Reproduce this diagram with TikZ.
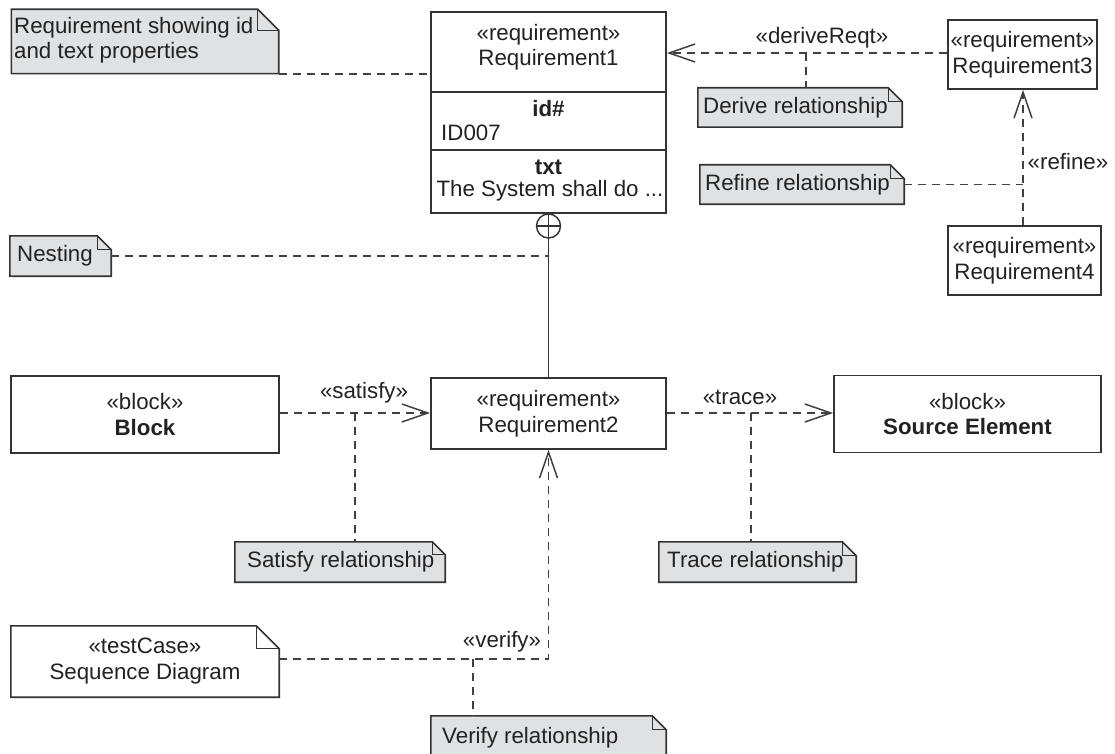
\documentclass[tikz,border=0pt]{standalone}
\usepackage{fontspec}
\setmainfont{Liberation Sans}
\usetikzlibrary{arrows.meta,calc}

\definecolor{ink}{HTML}{222222}
\definecolor{edge}{HTML}{333333}
\definecolor{dashink}{HTML}{404040}
\definecolor{notefill}{HTML}{E0E1E3}

% outline of a note with a folded top-right corner, drawn round an empty node
\newcommand\foldnote[3]{%
  \filldraw[fill=#3, draw=edge, line width=1.6pt, line join=miter]
    (#1.south west) -- (#1.north west) -- ([xshift=-#2]#1.north east)
    -- ([yshift=-#2]#1.north east) -- (#1.south east) -- cycle;
  \draw[edge, line width=1.3pt]
    ([xshift=-#2]#1.north east) |- ([yshift=-#2]#1.north east);}

\begin{document}
\begin{tikzpicture}[x=1pt, y=-1pt,
  every node/.style={font=\fontsize{22.3}{25.5}\selectfont, text=ink, inner sep=0pt},
  box/.style={draw=edge, line width=1.7pt, fill=white, align=center},
  shapeonly/.style={rectangle, inner sep=0pt},
  link/.style={draw=dashink, line width=1.8pt, dash pattern=on 8pt off 6pt},
  openhead/.style={-{Straight Barb[length=26pt, width=18pt, line width=1.5pt]}},
  solidline/.style={draw=edge, line width=1.6pt}
]
\useasboundingbox (0,0) rectangle (1115,754);

% ---------- Requirement1 with its id and text compartments ----------
\node[box, minimum width=235pt, minimum height=201pt] (req1) at (548.5,112.5) {};
\draw[solidline] (431,92) -- (666,92);
\draw[solidline] (431,150) -- (666,150);
\node[align=center] (req1head) at (548.5,47) {«requirement»\\Requirement1};
\node (idlbl) at (548.5,109) {\bfseries id\#};
\node[anchor=west] (idval) at (441,133) {ID007};
\node (txtlbl) at (548.5,167) {\bfseries txt};
\node (txtval) at (550,191) {The System shall do ...};

% nesting symbol under Requirement1
\node[draw=edge, circle, line width=1.4pt, minimum size=24pt] (nest) at (548.5,226) {};
\draw[edge, line width=1.3pt] (nest.north) -- (nest.south) (nest.west) -- (nest.east);

% ---------- Requirement3 and Requirement4 ----------
\node[box, minimum width=149pt, minimum height=69pt] (req3) at (1022.5,54.5)
  {«requirement»\\Requirement3};
\node[box, minimum width=153pt, minimum height=69pt] (req4) at (1024.5,260.5)
  {«requirement»\\Requirement4};

% ---------- lower row ----------
\node[box, minimum width=268pt, minimum height=77pt] (block) at (145,414.5)
  {«block»\\\textbf{Block}};
\node[box, minimum width=235pt, minimum height=71pt] (req2) at (548.5,413.5)
  {«requirement»\\Requirement2};
\node[box, minimum width=267pt, minimum height=77pt] (src) at (967.5,414)
  {«block»\\\textbf{Source Element}};

% ---------- notes ----------
\node[shapeonly, minimum width=267pt, minimum height=64pt] (n1) at (145,41.5) {};
\foldnote{n1}{21pt}{notefill}
\node[anchor=west, align=left] (n1txt) at (14,40)
  {Requirement showing id\\and text properties};

\node[shapeonly, minimum width=101pt, minimum height=40pt] (nnest) at (60.5,256) {};
\foldnote{nnest}{14pt}{notefill}
\node[anchor=west] (nnesttxt) at (17,256) {Nesting};

\node[shapeonly, minimum width=204pt, minimum height=39pt] (nderive) at (800,107.5) {};
\foldnote{nderive}{14pt}{notefill}
\node[anchor=west] (nderivetxt) at (703,107.5) {Derive relationship};

\node[shapeonly, minimum width=204pt, minimum height=39pt] (nrefine) at (802,184.5) {};
\foldnote{nrefine}{14pt}{notefill}
\node[anchor=west] (nrefinetxt) at (705,184.5) {Refine relationship};

\node[shapeonly, minimum width=210pt, minimum height=40pt] (nsatisfy) at (340,562) {};
\foldnote{nsatisfy}{13pt}{notefill}
\node[anchor=west] (nsatisfytxt) at (247,561.5) {Satisfy relationship};

\node[shapeonly, minimum width=197pt, minimum height=40pt] (ntrace) at (757.5,562) {};
\foldnote{ntrace}{14pt}{notefill}
\node[anchor=west] (ntracetxt) at (667,561.5) {Trace relationship};

\node[shapeonly, minimum width=235pt, minimum height=60pt] (nverify) at (548.5,746) {};
\foldnote{nverify}{14pt}{notefill}
\node[anchor=west] (nverifytxt) at (442,737.5) {Verify relationship};

% test case drawn as a white folded box
\node[shapeonly, minimum width=268pt, minimum height=71pt] (tc) at (145,661.5) {};
\foldnote{tc}{23pt}{white}
\node[align=center] (tctxt) at (145,661) {«testCase»\\Sequence Diagram};

% ---------- relationships ----------
% requirement note to Requirement1
\draw[link] (n1.south east) -- (n1.south east -| req1.west);

% containment
\draw[solidline] (nest.south) -- (req2.north);
\draw[link] (nnest.east) -- (nnest.east -| nest.south);

% deriveReqt
\draw[link, openhead] (req3.west |- 0,53) coordinate (dstart) -- (dstart -| req1.east);
\node (derivelbl) at (822,38) {«deriveReqt»};
\coordinate (dj) at (806,53);
\draw[link] (dj) -- (dj |- nderive.north);

% refine
\draw[link, openhead] (req4.north -| 1023,0) coordinate (rstart) -- (rstart |- req3.south);
\node (refinelbl) at (1068,162) {«refine»};
\draw[link] (nrefine.east) -- (nrefine.east -| rstart);

% satisfy
\draw[link, openhead] (block.east |- 0,413) coordinate (sstart) -- (sstart -| req2.west);
\node (satisfylbl) at (364,393) {«satisfy»};
\coordinate (sj) at (355,413);
\draw[link] (sj) -- (sj |- nsatisfy.north);

% trace
\draw[link, openhead] (req2.east |- 0,413) coordinate (tstart) -- (tstart -| src.west);
\node (tracelbl) at (740,397) {«trace»};
\coordinate (tj) at (751,413);
\draw[link] (tj) -- (tj |- ntrace.north);

% verify
\draw[link, openhead] (tc.east |- 0,659) coordinate (vstart) -| (req2.south);
\node (verifylbl) at (502,642) {«verify»};
\coordinate (vj) at (473,659);
\draw[link] (vj) -- (vj |- nverify.north);

\end{tikzpicture}
\end{document}
